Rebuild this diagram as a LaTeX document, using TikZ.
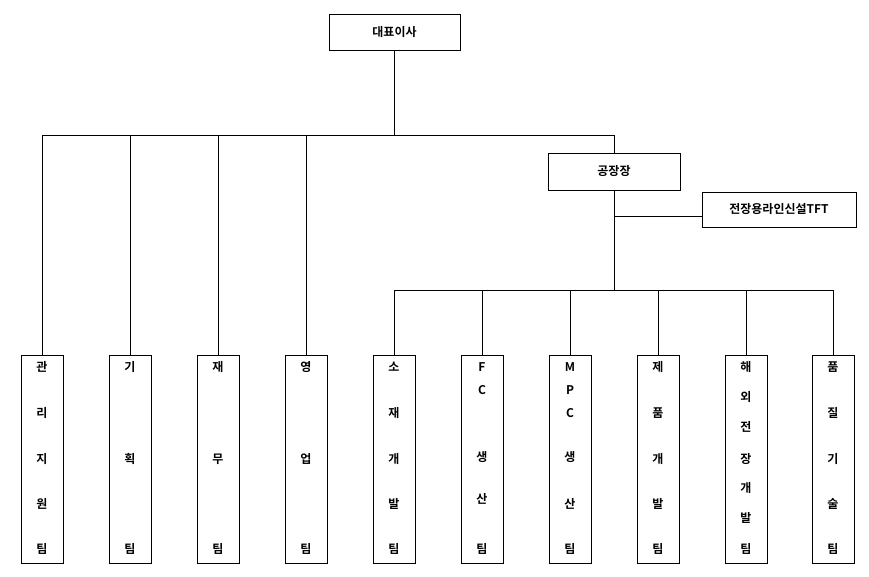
\documentclass[tikz,border=0pt]{standalone}
\usepackage{fontspec}
\newfontfamily\kr{Noto Sans CJK KR}[BoldFont={Noto Sans CJK KR Bold}]
\begin{document}
\begin{tikzpicture}[x=1pt,y=-1pt,
  box/.style={draw,line width=1pt,inner sep=0,minimum height=36pt,font=\kr\bfseries\fontsize{12}{14}\selectfont},
  col/.style={draw,line width=1pt,inner sep=0,minimum width=42pt,minimum height=208pt},
  ch/.style={font=\kr\bfseries\fontsize{12}{14}\selectfont,inner sep=0},
  ln/.style={line width=1pt}]
\useasboundingbox (0,0) rectangle (869,576);
\node[box,minimum width=131pt] (ceo) at (394.5,32) {대표이사};
\node[box,minimum width=132pt,minimum height=37pt] (fm) at (614,171.5) {공장장};
\node[box,minimum width=154pt,minimum height=35pt] (tft) at (779,209.5) {전장용라인신설TFT};
\coordinate (h1) at (394.5,135);
\coordinate (j1) at (614,216);
\coordinate (h2) at (614,290);
\draw[ln] (ceo.south) -- (h1);
\draw[ln] (42,135) -- (614,135);
\draw[ln] (614,135) -- (fm.north);
\draw[ln] (fm.south) -- (h2);
\draw[ln] (j1) -- (tft.west |- j1);
\draw[ln] (394,290) -- (833,290);
\newcommand\mkcol[3]{%
  \node[col] (#1) at (#2,459) {};
  \foreach \c/\yy in {#3} \node[ch] at (#2,\yy) {\c};}
\mkcol{c1}{42}{관/367,리/413,지/459,원/504,팀/549}
\mkcol{c2}{130}{기/367,획/459,팀/549}
\mkcol{c3}{218}{재/367,무/459,팀/549}
\mkcol{c4}{306}{영/367,업/459,팀/549}
\mkcol{c5}{394}{소/367,재/413,개/459,발/504,팀/549}
\mkcol{c6}{482}{F/367,C/390,생/457,산/499,팀/549}
\mkcol{c7}{570}{M/367,P/390,C/413,생/457,산/504,팀/549}
\mkcol{c8}{658}{제/367,품/413,개/459,발/504,팀/549}
\mkcol{c9}{746}{해/367,외/397,전/427,장/459,개/488,발/518,팀/549}
\mkcol{c10}{833}{품/367,질/413,기/459,술/504,팀/549}
\foreach \n/\x in {c1/42,c2/130,c3/218,c4/306} \draw[ln] (\x,135) -- (\n.north);
\foreach \n/\x in {c5/394,c6/482,c7/570,c8/658,c9/746,c10/833} \draw[ln] (\x,290) -- (\n.north);
\end{tikzpicture}
\end{document}
